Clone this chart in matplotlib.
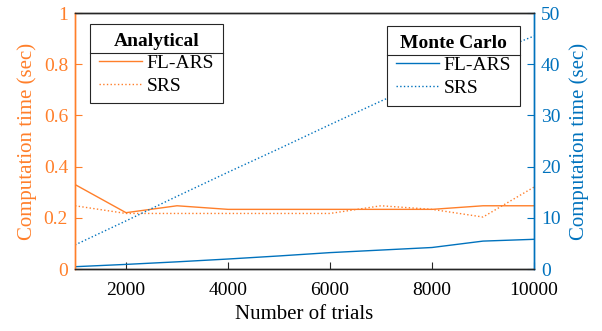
import matplotlib.pyplot as plt
from matplotlib.lines import Line2D

# data
trials = [1000, 2000, 3000, 4000, 5000, 6000, 7000, 8000, 9000, 10000]
an_flars = [0.33, 0.22, 0.247, 0.233, 0.233, 0.233, 0.233, 0.233, 0.247, 0.247]
an_srs = [0.247, 0.217, 0.217, 0.217, 0.217, 0.217, 0.247, 0.233, 0.203, 0.32]
mc_flars = [0.45, 0.9, 1.4, 1.95, 2.55, 3.2, 3.7, 4.2, 5.45, 5.8]
mc_srs = [4.7, 9.4, 14.2, 18.9, 23.5, 28.2, 32.8, 37.2, 41.5, 45.5]

orange = '#ff7f2a'
blue = '#0072bd'

plt.rcParams['font.family'] = ['Liberation Serif', 'DejaVu Serif']
plt.rcParams['font.size'] = 13

fig = plt.figure(figsize=(6.02, 3.31), dpi=100)
ax = fig.add_axes([0.1246, 0.1873, 0.7625, 0.7734])
ax2 = ax.twinx()

l1, = ax.plot(trials, an_flars, color=orange, lw=1.0, label='FL-ARS')
l2, = ax.plot(trials, an_srs, color=orange, lw=1.0, ls=':', label='SRS')
l3, = ax2.plot(trials, mc_flars, color=blue, lw=1.0, label='FL-ARS')
l4, = ax2.plot(trials, mc_srs, color=blue, lw=1.0, ls=':', label='SRS')

ax.set_xlim(1000, 10000)
ax.set_ylim(0, 1)
ax2.set_ylim(0, 50)
ax.set_xticks([2000, 4000, 6000, 8000, 10000])
ax.set_yticks([0, 0.2, 0.4, 0.6, 0.8, 1])
ax.set_yticklabels(['0', '0.2', '0.4', '0.6', '0.8', '1'])
ax2.set_yticks([0, 10, 20, 30, 40, 50])

ax.set_xlabel('Number of trials', fontsize=15, labelpad=5)
ax.set_ylabel('Computation time (sec)', color=orange, fontsize=15, labelpad=5)
ax2.set_ylabel('Computation time (sec)', color=blue, fontsize=15, labelpad=6)

ax.tick_params(axis='y', colors=orange, direction='in', length=5, labelsize=14, pad=5)
ax.tick_params(axis='x', colors='#262626', direction='in', length=5, labelsize=14, pad=9)
ax.tick_params(axis='x', labelcolor='black')
ax2.tick_params(axis='y', colors=blue, direction='in', length=5, labelsize=14, pad=5)

for a in (ax, ax2):
    a.spines['left'].set_color(orange)
    a.spines['right'].set_color(blue)
    a.spines['top'].set_color('#262626')
    a.spines['bottom'].set_color('#262626')
    for s in a.spines.values():
        s.set_linewidth(1.0)

leg_kw = dict(fancybox=False, edgecolor='#262626', framealpha=1, fontsize=14,
              handlelength=2.2, handletextpad=0.25, borderpad=0.45,
              labelspacing=0.25, borderaxespad=0)

leg1 = ax2.legend(handles=[l1, l2], title='Analytical', loc='upper left',
                  bbox_to_anchor=(0.0327, 0.957), **leg_kw)
ax2.add_artist(leg1)
leg2 = ax2.legend(handles=[l3, l4], title='Monte Carlo', loc='upper right',
                  bbox_to_anchor=(0.9695, 0.949), **leg_kw)
for lg in (leg1, leg2):
    lg.get_title().set_fontweight('bold')
    lg.get_title().set_fontsize(14)
    lg.get_frame().set_linewidth(0.8)

# separator line under each legend title
fig.canvas.draw()
r = fig.canvas.get_renderer()
inv = fig.transFigure.inverted()
for lg in (leg1, leg2):
    fb = lg.get_frame().get_window_extent(r)
    tb = lg.get_title().get_window_extent(r)
    ysep = tb.y0 - 3
    (x0, y0), (x1, y1) = inv.transform([(fb.x0, ysep), (fb.x1, ysep)])
    fig.add_artist(Line2D([x0, x1], [y0, y1], transform=fig.transFigure,
                          color='#262626', lw=0.8, zorder=10))

fig.savefig('out.png', dpi=100)
